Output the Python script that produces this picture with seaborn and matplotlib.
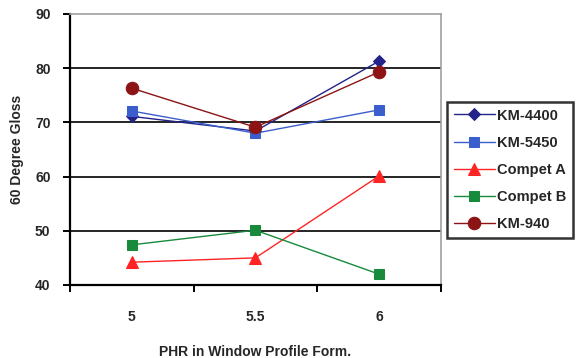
import matplotlib
matplotlib.use("Agg")
import matplotlib.pyplot as plt
from matplotlib.ticker import FixedLocator
import seaborn as sns
import pandas as pd

# Gloss readings per formulation level
phr_levels = ["5", "5.5", "6"]
km_4400 = [71.1, 68.4, 81.3]
km_5450 = [72.1, 68.0, 72.3]
compet_a = [44.2, 45.0, 60.1]
compet_b = [47.4, 50.1, 42.0]
km_940 = [76.3, 69.1, 79.3]

series_names = ["KM-4400", "KM-5450", "Compet A", "Compet B", "KM-940"]
series_values = [km_4400, km_5450, compet_a, compet_b, km_940]
series_colors = ["#23238a", "#3a5fcd", "#ff2424", "#178a3c", "#8c1414"]
series_markers = ["D", "s", "^", "s", "o"]
series_msize = [6, 6.5, 8, 6.5, 9]

rows = []
for name, vals in zip(series_names, series_values):
    for lvl, v in zip(phr_levels, vals):
        rows.append({"PHR": lvl, "Gloss": v, "Series": name})
df = pd.DataFrame(rows)

sns.set_style("white")
plt.rcParams["font.family"] = ["Liberation Sans", "DejaVu Sans"]
plt.rcParams["font.weight"] = "bold"

fig = plt.figure(figsize=(5.77, 3.58), dpi=100)
ax = fig.add_axes([0.1213, 0.204, 0.6427, 0.757])

for name, col, mk, ms in zip(series_names, series_colors, series_markers, series_msize):
    sub = df[df["Series"] == name]
    sns.lineplot(data=sub, x="PHR", y="Gloss", ax=ax, color=col, marker=mk,
                 markersize=ms, markeredgecolor=col, linewidth=1.0,
                 label=name, legend=False, sort=False)

ax.set_ylim(40, 90)
ax.set_xlim(-0.5, 2.5)
ax.set_yticks([40, 50, 60, 70, 80, 90])
ax.set_xticks([0, 1, 2])
ax.set_xticklabels(phr_levels)
ax.xaxis.set_minor_locator(FixedLocator([-0.5, 0.5, 1.5, 2.5]))

for yv in [50, 60, 70, 80]:
    ax.axhline(yv, color="black", linewidth=1.2, zorder=0)

ax.spines["left"].set_color("black")
ax.spines["left"].set_linewidth(1.6)
ax.spines["bottom"].set_color("black")
ax.spines["bottom"].set_linewidth(1.6)
ax.spines["top"].set_color("#a0a0a0")
ax.spines["top"].set_linewidth(1.2)
ax.spines["right"].set_color("#a0a0a0")
ax.spines["right"].set_linewidth(1.2)

ax.tick_params(axis="y", which="major", direction="out", length=5, width=1.4,
               color="black", labelsize=10, pad=9, left=True)
ax.tick_params(axis="x", which="major", length=0, labelsize=10, pad=18)
ax.tick_params(axis="x", which="minor", direction="out", length=5, width=1.4,
               color="black", bottom=True)

ax.set_xlabel("PHR in Window Profile Form.", fontsize=10, fontweight="bold", labelpad=15)
ax.set_ylabel("60 Degree Gloss", fontsize=10, fontweight="bold", labelpad=8)

handles, labels = ax.get_legend_handles_labels()
leg = fig.legend(handles, labels, loc="upper left", bbox_to_anchor=(0.775, 0.715),
                 frameon=True, fontsize=10.5, handlelength=2.8, labelspacing=0.9,
                 borderpad=0.45, handletextpad=0.2, borderaxespad=0, fancybox=False)
leg.get_frame().set_edgecolor("black")
leg.get_frame().set_linewidth(1.8)
for t in leg.get_texts():
    t.set_fontweight("bold")

fig.savefig("out.png", dpi=100)
